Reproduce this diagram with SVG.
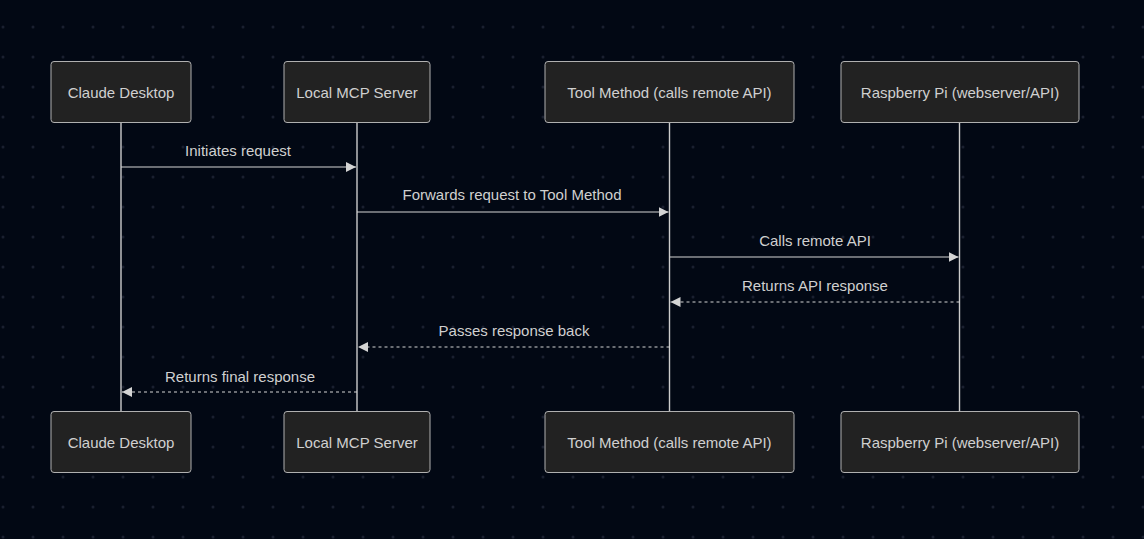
<svg xmlns="http://www.w3.org/2000/svg" width="1144" height="539" viewBox="0 0 1144 539">
<defs>
<pattern id="dots" x="0" y="0" width="30" height="30" patternUnits="userSpaceOnUse">
<circle cx="3" cy="27" r="1.5" fill="#1a2030"/>
</pattern>
<marker id="arr" viewBox="0 0 10 10" refX="10" refY="5" markerWidth="10" markerHeight="10" markerUnits="userSpaceOnUse" orient="auto">
<path d="M0,0 L10,5 L0,10 z" fill="#d4d4d4"/>
</marker>
</defs>
<style>
.actor rect{fill:#222222;stroke:#b0b0b0;stroke-width:1}
.actor text{fill:#d0d0d0;font-family:"Liberation Sans",Arial,sans-serif;font-size:15px;text-anchor:middle;dominant-baseline:central}
.life{stroke:#cccccc;stroke-width:1.4}
.msg{stroke:#d4d4d4;stroke-width:1.2;fill:none;marker-end:url(#arr)}
.dash{stroke-dasharray:3,3}
.lbl{fill:#d0d0d0;font-family:"Liberation Sans",Arial,sans-serif;font-size:15px;text-anchor:middle;dominant-baseline:central}
</style>
<rect width="1144" height="539" fill="#020814"/>
<rect width="1144" height="539" fill="url(#dots)"/>
<g id="lifelines">
<line class="life" x1="121" y1="122" x2="121" y2="411"/>
<line class="life" x1="357" y1="122" x2="357" y2="411"/>
<line class="life" x1="669.5" y1="122" x2="669.5" y2="411"/>
<line class="life" x1="959.5" y1="122" x2="959.5" y2="411"/>
</g>
<g id="claude-top" class="actor"><rect x="51" y="61.5" width="140" height="61" rx="3"/><text x="121" y="92">Claude Desktop</text></g>
<g id="mcp-top" class="actor"><rect x="284" y="61.5" width="146" height="61" rx="3"/><text x="357" y="92">Local MCP Server</text></g>
<g id="tool-top" class="actor"><rect x="545" y="61.5" width="249" height="61" rx="3"/><text x="669.5" y="92">Tool Method (calls remote API)</text></g>
<g id="pi-top" class="actor"><rect x="841" y="61.5" width="238" height="61" rx="3"/><text x="960" y="92">Raspberry Pi (webserver/API)</text></g>
<g id="claude-bottom" class="actor"><rect x="51" y="411.5" width="140" height="61" rx="3"/><text x="121" y="442">Claude Desktop</text></g>
<g id="mcp-bottom" class="actor"><rect x="284" y="411.5" width="146" height="61" rx="3"/><text x="357" y="442">Local MCP Server</text></g>
<g id="tool-bottom" class="actor"><rect x="545" y="411.5" width="249" height="61" rx="3"/><text x="669.5" y="442">Tool Method (calls remote API)</text></g>
<g id="pi-bottom" class="actor"><rect x="841" y="411.5" width="238" height="61" rx="3"/><text x="960" y="442">Raspberry Pi (webserver/API)</text></g>
<g id="connectors">
<line class="msg" x1="121" y1="167" x2="356" y2="167"/>
<text class="lbl" x="238" y="150">Initiates request</text>
<line class="msg" x1="357" y1="212" x2="668.5" y2="212"/>
<text class="lbl" x="512" y="194">Forwards request to Tool Method</text>
<line class="msg" x1="669.5" y1="257" x2="958.5" y2="257"/>
<text class="lbl" x="815" y="240">Calls remote API</text>
<line class="msg dash" x1="959.5" y1="302" x2="670.5" y2="302"/>
<text class="lbl" x="815" y="285">Returns API response</text>
<line class="msg dash" x1="669.5" y1="347" x2="358" y2="347"/>
<text class="lbl" x="514" y="330">Passes response back</text>
<line class="msg dash" x1="357" y1="392" x2="122" y2="392"/>
<text class="lbl" x="240" y="376">Returns final response</text>
</g>
</svg>
